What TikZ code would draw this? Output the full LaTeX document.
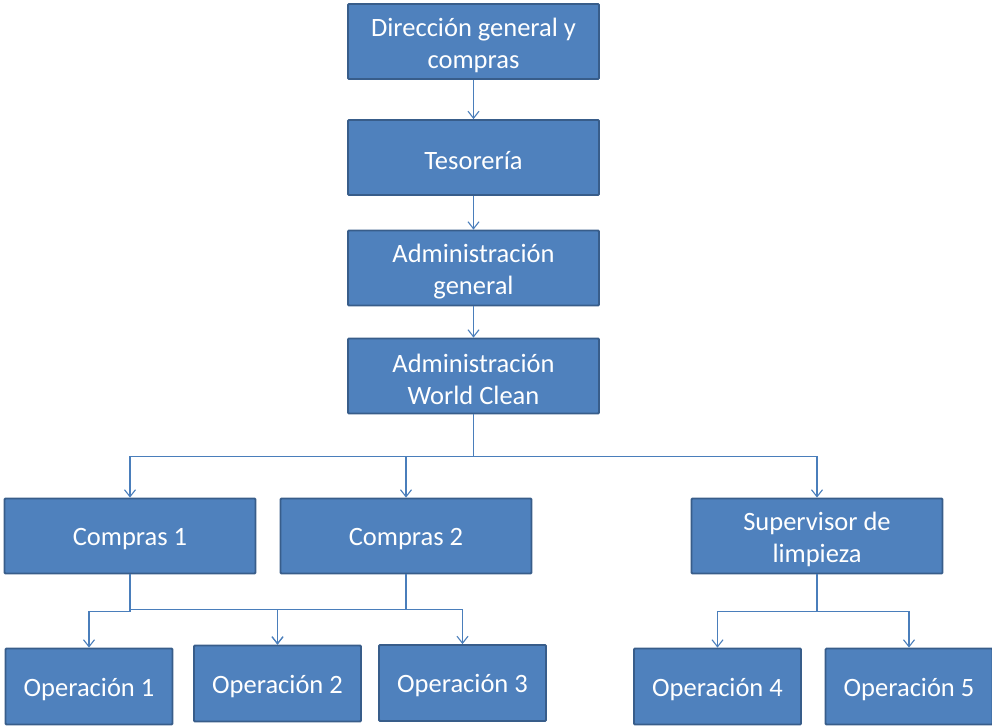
\documentclass[tikz,border=0pt]{standalone}
\usepackage{fontspec}
\setmainfont{Carlito}
\usetikzlibrary{positioning}
\usetikzlibrary{arrows.meta}
\definecolor{boxfill}{HTML}{4F81BD}
\definecolor{boxline}{HTML}{385D8A}
\definecolor{linkline}{HTML}{4A7EBB}

\begin{document}
\begin{tikzpicture}[x=1pt, y=-1pt, >={Straight Barb[length=7pt,width=11pt]},
    unit/.style={rectangle, rounded corners=1pt, draw=boxline, line width=1.8pt, fill=boxfill, text=white, align=center, inner sep=0pt, font=\fontsize{26.5}{32}\selectfont, execute at begin node={\rule{0pt}{24pt}}},
    twoline/.style={execute at begin node={\rule{0pt}{58pt}}},
    wide/.style={unit, minimum width=251pt, minimum height=75pt},
    narrow/.style={unit, minimum width=167pt, minimum height=76pt},
    link/.style={draw=linkline, line width=1.1pt, ->}]
\useasboundingbox (0,0) rectangle (992,725);
\path
    node[wide, twoline] (dir) at (473.5,41.5) {Dirección general y\\compras}
    node[wide] (tes) at (473.5,157.5) {Tesorería}
    node[wide, twoline] (admg) at (473.5,268) {Administración\\general}
    node[wide, twoline] (admw) at (473.5,376) {Administración\\World Clean}
    node[wide] (c1) at (130,536) {Compras 1}
    node[wide] (c2) at (406,536) {Compras 2}
    node[wide, twoline] (sup) at (817,536) {Supervisor de\\limpieza}
    node[narrow] (o1) at (89,686.5) {Operación 1}
    node[narrow] (o2) at (277.5,683.5) {Operación 2}
    node[narrow] (o3) at (462.5,683) {Operación 3}
    node[narrow] (o4) at (717.5,686.5) {Operación 4}
    node[narrow] (o5) at (909,686.5) {Operación 5};

    \draw[link] (dir) -- (tes);
    \draw[link] (tes) -- (admg);
    \draw[link] (admg) -- (admw);

    \draw[link] (admw.south) -- ++(0,42) -| (c1.north);
    \draw[link] (admw.south) -- ++(0,42) -| (c2.north);
    \draw[link] (admw.south) -- ++(0,42) -| (sup.north);

    \draw[link] (c1.south) -- ++(0,37) -| (o1.north);
    \draw[link] (c1.south) -- ++(0,35) -| (o2.north);
    \draw[link] (c2.south) -- ++(0,35) -| (o2.north);
    \draw[link] (c2.south) -- ++(0,35) -| (o3.north);

    \draw[link] (sup.south) -- ++(0,37) -| (o4.north);
    \draw[link] (sup.south) -- ++(0,37) -| (o5.north);
\end{tikzpicture}
\end{document}
